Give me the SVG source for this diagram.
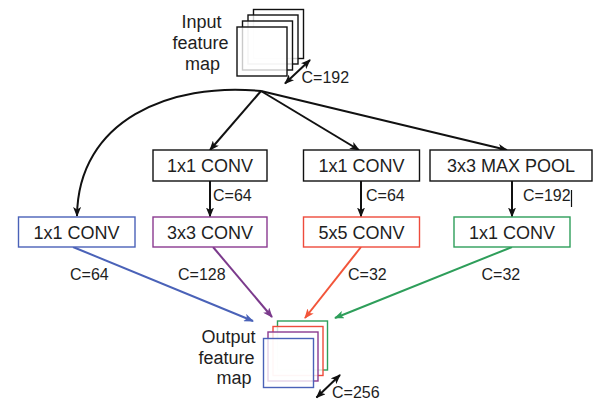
<svg xmlns="http://www.w3.org/2000/svg" width="593" height="406" viewBox="0 0 593 406">
  <style>
    text { font-family: "Liberation Sans", Arial, sans-serif; fill: #1e1e1e; }
    .lbl { font-size: 18px; text-anchor: middle; }
    .ch { font-size: 16px; }
    .box { fill: #ffffff; stroke-width: 1.4; }
    .sheet { fill: #ffffff; fill-opacity: 0.78; stroke-width: 1.4; }
    .edge { fill: none; stroke-width: 2; }
  </style>
  <defs>
    <marker id="ah-k" viewBox="0 0 10 8" refX="9" refY="4" markerWidth="10" markerHeight="8" markerUnits="userSpaceOnUse" orient="auto-start-reverse">
      <path d="M0,0 L10,4 L0,8 L2.5,4 z" fill="#111"/>
    </marker>
    <marker id="ah-b" viewBox="0 0 10 8" refX="9" refY="4" markerWidth="10" markerHeight="8" markerUnits="userSpaceOnUse" orient="auto">
      <path d="M0,0 L10,4 L0,8 L2.5,4 z" fill="#4a62b8"/>
    </marker>
    <marker id="ah-p" viewBox="0 0 10 8" refX="9" refY="4" markerWidth="10" markerHeight="8" markerUnits="userSpaceOnUse" orient="auto">
      <path d="M0,0 L10,4 L0,8 L2.5,4 z" fill="#7b3a8c"/>
    </marker>
    <marker id="ah-r" viewBox="0 0 10 8" refX="9" refY="4" markerWidth="10" markerHeight="8" markerUnits="userSpaceOnUse" orient="auto">
      <path d="M0,0 L10,4 L0,8 L2.5,4 z" fill="#f2553a"/>
    </marker>
    <marker id="ah-g" viewBox="0 0 10 8" refX="9" refY="4" markerWidth="10" markerHeight="8" markerUnits="userSpaceOnUse" orient="auto">
      <path d="M0,0 L10,4 L0,8 L2.5,4 z" fill="#2e9e5a"/>
    </marker>
  </defs>

  <rect width="593" height="406" fill="#ffffff"/>

  <!-- input stack -->
  <g id="input">
    <rect class="sheet" x="253.5" y="9.5" width="50" height="49" stroke="#111"/>
    <rect class="sheet" x="248" y="15" width="50" height="49" stroke="#111"/>
    <rect class="sheet" x="242.5" y="21" width="50" height="49" stroke="#111"/>
    <rect class="sheet" x="237" y="27" width="50" height="49" stroke="#111"/>
    <text class="lbl" x="201.5" y="27.5">Input</text>
    <text class="lbl" x="200.5" y="49">feature</text>
    <text class="lbl" x="202.5" y="70">map</text>
    <text class="ch" x="301.5" y="82.5">C=192</text>
  </g>

  <!-- connectors -->
  <g id="connectors">
    <path class="edge" stroke="#111" marker-end="url(#ah-k)" d="M261,91 C170,82 78,120 77,216"/>
    <path class="edge" stroke="#111" marker-end="url(#ah-k)" d="M261,91 L210,150"/>
    <path class="edge" stroke="#111" marker-end="url(#ah-k)" d="M261,91 L359,150"/>
    <path class="edge" stroke="#111" marker-end="url(#ah-k)" d="M261,91 L507,150"/>
    <path class="edge" stroke="#111" marker-end="url(#ah-k)" d="M210,181 L210,216.5"/>
    <path class="edge" stroke="#111" marker-end="url(#ah-k)" d="M361,181 L361,216.5"/>
    <path class="edge" stroke="#111" marker-end="url(#ah-k)" d="M512,181 L512,216.5"/>
    <path class="edge" stroke="#4a62b8" marker-end="url(#ah-b)" d="M73,247 L253,321"/>
    <path class="edge" stroke="#7b3a8c" marker-end="url(#ah-p)" d="M213,247 L272,317"/>
    <path class="edge" stroke="#f2553a" marker-end="url(#ah-r)" d="M361,247 L305,318"/>
    <path class="edge" stroke="#2e9e5a" marker-end="url(#ah-g)" d="M512,247 L335,318"/>
    <path class="edge" stroke="#111" stroke-width="1.8" marker-start="url(#ah-k)" marker-end="url(#ah-k)" d="M285,83.5 L310,60"/>
    <path class="edge" stroke="#111" stroke-width="1.8" marker-start="url(#ah-k)" marker-end="url(#ah-k)" d="M316.5,397.5 L340,375"/>
  </g>

  <!-- channel labels -->
  <g id="channels">
    <text class="ch" x="213" y="201">C=64</text>
    <text class="ch" x="366" y="201">C=64</text>
    <text class="ch" x="523" y="201">C=192</text>
    <line x1="571.5" y1="190" x2="571.5" y2="207" stroke="#111" stroke-width="1.2"/>
    <text class="ch" x="70" y="279.5">C=64</text>
    <text class="ch" x="178" y="279.5">C=128</text>
    <text class="ch" x="348" y="279.5">C=32</text>
    <text class="ch" x="481.5" y="279.5">C=32</text>
  </g>

  <!-- top row -->
  <g id="reduce3">
    <rect class="box" x="153" y="150" width="114" height="31" stroke="#111"/>
    <text class="lbl" x="210" y="172">1x1 CONV</text>
  </g>
  <g id="reduce5">
    <rect class="box" x="303.5" y="150" width="116" height="31" stroke="#111"/>
    <text class="lbl" x="361.5" y="172">1x1 CONV</text>
  </g>
  <g id="maxpool">
    <rect class="box" x="430" y="150" width="162" height="31" stroke="#111"/>
    <text class="lbl" x="511" y="172">3x3 MAX POOL</text>
  </g>

  <!-- bottom row -->
  <g id="conv1">
    <rect class="box" x="18.5" y="217" width="116.5" height="30" stroke="#4a62b8"/>
    <text class="lbl" x="76.5" y="238.5">1x1 CONV</text>
  </g>
  <g id="conv3">
    <rect class="box" x="153" y="217" width="114" height="30" stroke="#8b3a90"/>
    <text class="lbl" x="210" y="238.5">3x3 CONV</text>
  </g>
  <g id="conv5">
    <rect class="box" x="303.5" y="217" width="116" height="30" stroke="#ee4b3c"/>
    <text class="lbl" x="361.5" y="238.5">5x5 CONV</text>
  </g>
  <g id="poolproj">
    <rect class="box" x="454" y="217" width="116" height="30" stroke="#2e9e5a"/>
    <text class="lbl" x="512" y="238.5">1x1 CONV</text>
  </g>

  <!-- output stack -->
  <g id="output">
    <rect class="sheet" x="277.5" y="321" width="50" height="49" stroke="#2e9e5a"/>
    <rect class="sheet" x="273" y="326.5" width="50" height="49" stroke="#ee4b3c"/>
    <rect class="sheet" x="268" y="332" width="50" height="49" stroke="#8b3a90"/>
    <rect class="sheet" x="263.5" y="338.5" width="50" height="49" stroke="#4a62b8"/>
    <text class="lbl" x="228.5" y="343">Output</text>
    <text class="lbl" x="226.5" y="364">feature</text>
    <text class="lbl" x="234" y="383.5">map</text>
    <text class="ch" x="332" y="398">C=256</text>
  </g>
</svg>
